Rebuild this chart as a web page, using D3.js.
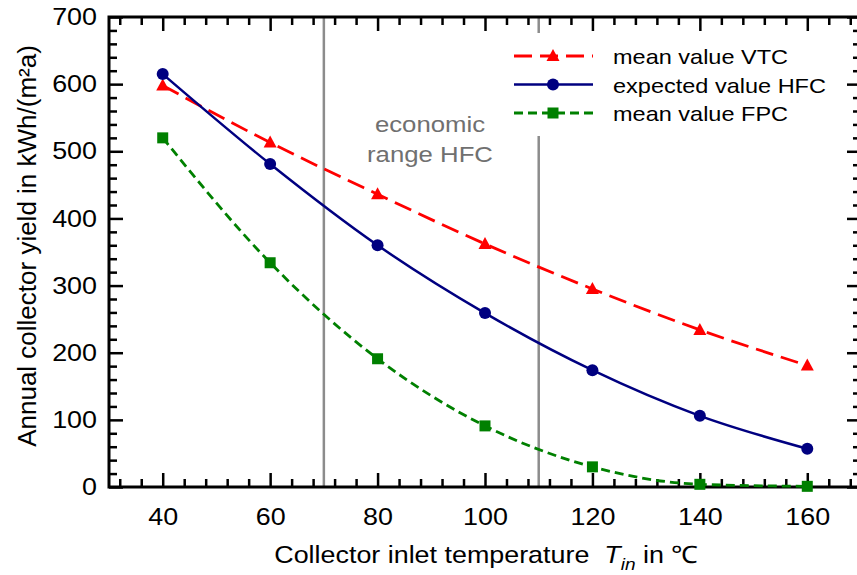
<!DOCTYPE html>
<meta charset="utf-8">
<style>
body { margin: 0; background: #fff; }
svg { font-family: "Liberation Sans", Arial, sans-serif; }
.axis path { display: none; }
.axis line { stroke: #000; stroke-width: 2.5px; }
.axis text { font-size: 24px; fill: #000; }
</style>
<svg></svg>
<script src="https://d3js.org/d3.v7.min.js"></script>
<script>

var width = 857,
    height = 575;

// values
var temps = [40, 60, 80, 100, 120, 140, 160];
var vtc = [598, 513, 436, 362, 295, 234, 181];
var hfc = [615, 481, 360, 259, 174, 106, 57];
var fpc = [520, 334, 191, 91, 30, 4, 1];
var rangeHFC = [70, 110];
var xTicks = [40, 60, 80, 100, 120, 140, 160];
var yTicks = [0, 100, 200, 300, 400, 500, 600, 700];

var series = [
  {name: "mean value VTC", values: vtc, color: "#ff0000", dash: "18,8", width: 2.8, marker: "triangle"},
  {name: "expected value HFC", values: hfc, color: "#000080", dash: null, width: 2.5, marker: "circle"},
  {name: "mean value FPC", values: fpc, color: "#008000", dash: "9,5", width: 2.8, marker: "square"}
];

var x = d3.scaleLinear().domain([30, 170]).range([109, 861]);
var y = d3.scaleLinear().domain([0, 700]).range([487, 17]);

// the original font runs a bit wider than Arial
var wide = 1.12;
function stretch(sel) {
  sel.each(function() {
    var t = d3.select(this);
    var tx = +t.attr("x") || 0, ty = +t.attr("y") || 0;
    t.attr("x", 0).attr("y", 0)
     .attr("transform", "translate(" + tx + "," + ty + ") scale(" + wide + ",1)");
  });
}

var svg = d3.select("svg")
    .attr("width", width)
    .attr("height", height);

// vertical lines for the economic range
svg.selectAll(".range")
    .data(rangeHFC)
  .enter().append("line")
    .attr("class", "range")
    .attr("x1", function(d) { return x(d); })
    .attr("x2", function(d) { return x(d); })
    .attr("y1", y(700))
    .attr("y2", y(0))
    .attr("stroke", "#8c8c8c")
    .attr("stroke-width", 2.5);

var minorX = d3.range(32, 170, 4).filter(function(d) { return d % 20 != 0; });
var minorY = d3.range(20, 700, 20).filter(function(d) { return d % 100 != 0; });

// axes, ticks inside on all four sides
var gx = svg.append("g").attr("class", "axis")
    .attr("transform", "translate(0," + y(0) + ")")
    .call(d3.axisBottom(x).tickValues(xTicks).tickSize(-14).tickPadding(21));
svg.append("g").attr("class", "axis")
    .attr("transform", "translate(0," + y(0) + ")")
    .call(d3.axisBottom(x).tickValues(minorX).tickSize(-8).tickFormat(""));
svg.append("g").attr("class", "axis")
    .attr("transform", "translate(0," + y(700) + ")")
    .call(d3.axisTop(x).tickValues(xTicks).tickSize(-14).tickFormat(""));
svg.append("g").attr("class", "axis")
    .attr("transform", "translate(0," + y(700) + ")")
    .call(d3.axisTop(x).tickValues(minorX).tickSize(-8).tickFormat(""));

var gy = svg.append("g").attr("class", "axis")
    .attr("transform", "translate(" + x(30) + ",0)")
    .call(d3.axisLeft(y).tickValues(yTicks).tickSize(-14).tickPadding(12));
svg.append("g").attr("class", "axis")
    .attr("transform", "translate(" + x(30) + ",0)")
    .call(d3.axisLeft(y).tickValues(minorY).tickSize(-8).tickFormat(""));
svg.append("g").attr("class", "axis")
    .attr("transform", "translate(" + x(170) + ",0)")
    .call(d3.axisRight(y).tickValues(yTicks).tickSize(-14).tickFormat(""));
svg.append("g").attr("class", "axis")
    .attr("transform", "translate(" + x(170) + ",0)")
    .call(d3.axisRight(y).tickValues(minorY).tickSize(-8).tickFormat(""));

stretch(gx.selectAll("text"));
stretch(gy.selectAll("text"));

svg.append("rect")
    .attr("x", x(30))
    .attr("y", y(700))
    .attr("width", x(170) - x(30))
    .attr("height", y(0) - y(700))
    .attr("fill", "none")
    .attr("stroke", "#000")
    .attr("stroke-width", 3);

// white box behind legend hides part of the 110 line
svg.append("rect")
    .attr("x", 500)
    .attr("y", 33)
    .attr("width", 340)
    .attr("height", 103)
    .attr("fill", "#fff");

var line = d3.line()
    .x(function(d, i) { return x(temps[i]); })
    .y(function(d) { return y(d); })
    .curve(d3.curveMonotoneX);

function drawMarker(sel, s, cx, cy) {
  if (s.marker == "circle") {
    sel.append("circle").attr("cx", cx).attr("cy", cy).attr("r", 6).attr("fill", s.color);
  } else if (s.marker == "square") {
    sel.append("rect").attr("x", cx - 5.5).attr("y", cy - 5.5).attr("width", 11).attr("height", 11).attr("fill", s.color);
  } else {
    sel.append("path")
        .attr("d", "M" + cx + "," + (cy - 7) + "L" + (cx + 6.5) + "," + (cy + 5) + "L" + (cx - 6.5) + "," + (cy + 5) + "Z")
        .attr("fill", s.color);
  }
}

series.forEach(function(s) {
  var g = svg.append("g");
  g.append("path")
      .datum(s.values)
      .attr("d", line)
      .attr("fill", "none")
      .attr("stroke", s.color)
      .attr("stroke-width", s.width)
      .attr("stroke-dasharray", s.dash);
  s.values.forEach(function(v, i) {
    drawMarker(g, s, x(temps[i]), y(v));
  });
});

// legend
var legend = svg.append("g");
series.forEach(function(s, i) {
  var ly = 56 + i * 28.5;
  legend.append("line")
      .attr("x1", 514).attr("x2", 593)
      .attr("y1", ly).attr("y2", ly)
      .attr("stroke", s.color)
      .attr("stroke-width", s.width)
      .attr("stroke-dasharray", s.dash);
  drawMarker(legend, s, 553, ly);
  legend.append("text")
      .attr("x", 613)
      .attr("y", ly + 8)
      .attr("font-size", "21px")
      .text(s.name)
      .call(stretch);
});

// economic range label
svg.append("text")
    .attr("x", 430).attr("y", 132)
    .attr("text-anchor", "middle")
    .attr("font-size", "23px")
    .attr("fill", "#707070")
    .text("economic")
    .call(stretch);
svg.append("text")
    .attr("x", 430).attr("y", 162)
    .attr("text-anchor", "middle")
    .attr("font-size", "23px")
    .attr("fill", "#707070")
    .text("range HFC")
    .call(stretch);

// axis titles
var xt = svg.append("text")
    .attr("x", 486).attr("y", 563)
    .attr("text-anchor", "middle")
    .attr("font-size", "24px");
xt.append("tspan").text("Collector inlet temperature\u00a0\u00a0");
xt.append("tspan").attr("font-style", "italic").text("T");
xt.append("tspan").attr("font-style", "italic").attr("font-size", "17px").attr("dy", 7).text("in");
xt.append("tspan").attr("dy", -7).text(" in \u2103");
stretch(xt);

svg.append("text")
    .attr("transform", "translate(36,246) rotate(-90)")
    .attr("text-anchor", "middle")
    .attr("font-size", "26px")
    .text("Annual collector yield in kWh/(m\u00b2a)");

</script>
